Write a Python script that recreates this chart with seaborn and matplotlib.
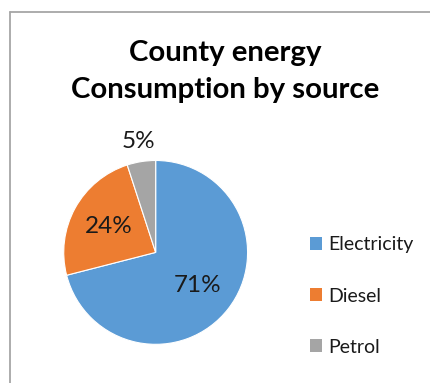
import matplotlib
matplotlib.use("Agg")
import matplotlib.pyplot as plt
import seaborn as sns
import numpy as np
from matplotlib.lines import Line2D
from matplotlib.patches import Patch

categories = ["Electricity", "Diesel", "Petrol"]
values = [71, 24, 5]
colors = ["#5B9BD5", "#ED7D31", "#A5A5A5"]
title_lines = ["County energy", "Consumption by source"]

sns.set_theme(style="white")
plt.rcParams['font.family'] = ['Lato', 'DejaVu Sans']

palette = sns.color_palette(colors)

fig = plt.figure(figsize=(4.30, 3.83), dpi=100)
fig.patch.set_facecolor("white")

# chart border (cropped at right/bottom)
fig.add_artist(Line2D([9.5/430, 9.5/430], [0, 1 - 11.5/383], transform=fig.transFigure,
                      color="#A6A6A6", lw=1.3))
fig.add_artist(Line2D([9.5/430, 1], [1 - 11.5/383, 1 - 11.5/383], transform=fig.transFigure,
                      color="#A6A6A6", lw=1.3))

ax = fig.add_axes([0.148, 0.101, 0.428, 0.480])
wedges, texts, autotexts = ax.pie(
    values, colors=palette, startangle=90, counterclock=False,
    autopct=lambda p: f"{p:.0f}%", pctdistance=0.58, radius=1,
    wedgeprops=dict(edgecolor="white", linewidth=0.8),
    textprops=dict(fontsize=17.5, color="#1a1a1a"))
ax.set_xlim(-1, 1)
ax.set_ylim(-1, 1)
ax.set_aspect("equal")
ax.axis("off")

# move the small slice's label outside (best fit)
w = wedges[2]
mid = np.deg2rad((w.theta1 + w.theta2) / 2)
autotexts[2].set_position((1.22 * np.cos(mid), 1.22 * np.sin(mid)))

fig.text(0.524, 1 - 53/383, title_lines[0], ha="center", va="center",
         fontsize=21.2, fontweight="bold", color="black")
fig.text(0.524, 1 - 90/383, title_lines[1], ha="center", va="center",
         fontsize=21.2, fontweight="bold", color="black")

handles = [Patch(facecolor=c, edgecolor="none") for c in palette]
leg = fig.legend(handles, categories, loc="center left",
                 bbox_to_anchor=(0.698, 1 - 296/383), frameon=False,
                 fontsize=14, handlelength=0.62, handleheight=0.62,
                 handletextpad=0.3, labelspacing=1.75, borderpad=0)
for t in leg.get_texts():
    t.set_color("#1a1a1a")

fig.savefig("out.png", dpi=100)
